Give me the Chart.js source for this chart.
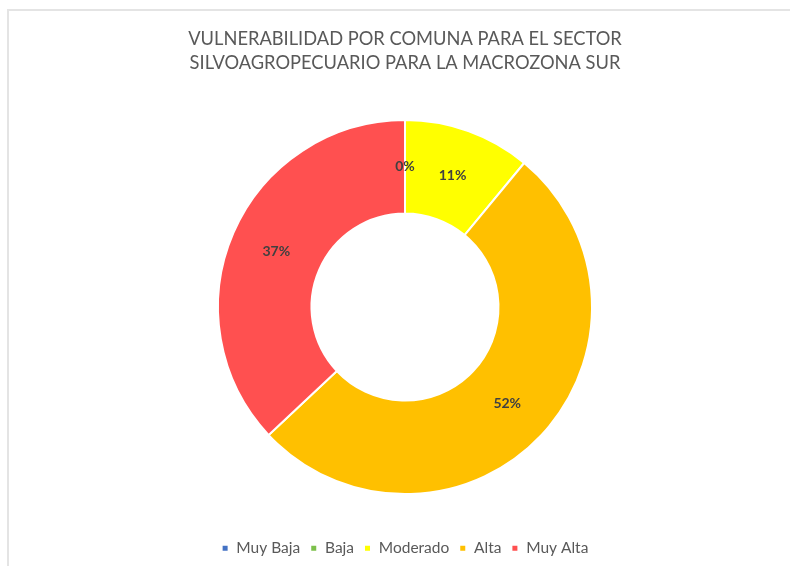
<!DOCTYPE html>
<html>
<head>
<meta charset="utf-8">
<script src="https://cdn.jsdelivr.net/npm/chart.js@4.4.1/dist/chart.umd.min.js"></script>
<style>
  html, body { margin: 0; padding: 0; background: #fff; }
  #wrap { position: relative; width: 790px; height: 566px; }
  #frame { position: absolute; left: 7px; top: 9px; right: 0; bottom: 0;
           border-top: 2px solid #e4e4e4; border-left: 2px solid #e4e4e4; pointer-events: none; }
  canvas { position: absolute; left: 0; top: 0; }
</style>
</head>
<body>
<div id="wrap">
  <canvas id="vuln-chart" width="790" height="566"></canvas>
  <div id="frame"></div>
</div>
<script>
const categories = ['Muy Baja', 'Baja', 'Moderado', 'Alta', 'Muy Alta'];
const percentages = [0, 0, 11, 52, 37];
const sliceColors = ['#4472C4', '#7CC04B', '#FFFF00', '#FFC000', '#FF5050'];
const titleLines = ['VULNERABILIDAD POR COMUNA PARA EL SECTOR', 'SILVOAGROPECUARIO PARA LA MACROZONA SUR'];

const FONT = 'Lato, "Open Sans", sans-serif';

// draws the percentage labels in the middle of each ring segment
const sliceLabels = {
  id: 'sliceLabels',
  afterDatasetsDraw(chart) {
    const ctx = chart.ctx;
    const meta = chart.getDatasetMeta(0);
    const done = {};
    ctx.save();
    ctx.font = 'bold 14px ' + FONT;
    ctx.fillStyle = '#404040';
    ctx.textAlign = 'center';
    ctx.textBaseline = 'middle';
    meta.data.forEach((arc, i) => {
      const pos = arc.tooltipPosition();
      const key = Math.round(pos.x) + ',' + Math.round(pos.y);
      if (done[key]) return; // zero slices all sit on the same spot
      done[key] = true;
      ctx.fillText(percentages[i] + '%', pos.x, pos.y);
    });
    ctx.restore();
  }
};

const ctx = document.getElementById('vuln-chart').getContext('2d');
new Chart(ctx, {
  type: 'doughnut',
  data: {
    labels: categories,
    datasets: [{
      data: percentages,
      backgroundColor: sliceColors,
      borderColor: '#ffffff',
      borderWidth: 2,
      radius: 187,
    }],
  },
  options: {
    responsive: false,
    animation: false,
    cutout: '50%',
    layout: { padding: { left: 20, bottom: 0 } },
    plugins: {
      title: {
        display: true,
        text: titleLines,
        color: '#595959',
        font: { family: FONT, size: 18.3, weight: 'normal', lineHeight: 1.33 },
        padding: { top: 27, bottom: 8 },
      },
      legend: {
        position: 'bottom',
        labels: {
          boxWidth: 7,
          boxHeight: 7,
          color: '#595959',
          padding: 10,
          font: { family: FONT, size: 15.5 },
        },
      },
      tooltip: { enabled: false },
    },
  },
  plugins: [sliceLabels],
});
</script>
</body>
</html>
